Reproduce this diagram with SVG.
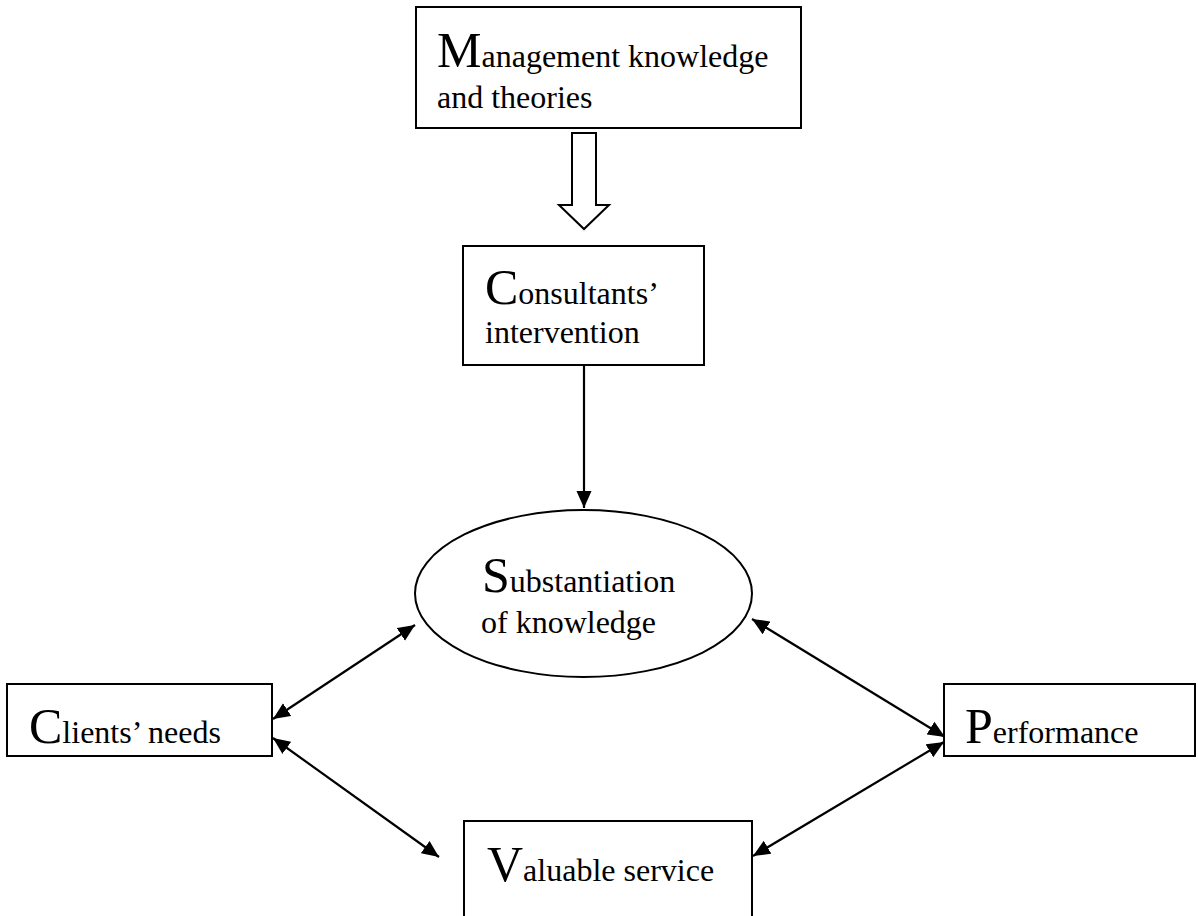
<svg xmlns="http://www.w3.org/2000/svg" width="1198" height="916" viewBox="0 0 1198 916">
<defs>
<style>
.box{fill:#fff;stroke:#000;stroke-width:2}
.t{font-family:"Liberation Serif","Times New Roman",serif;font-size:32px;fill:#000}
.b{font-size:50px}
.ln{stroke:#000;stroke-width:2.2;fill:none}
</style>
<marker id="ah" markerUnits="userSpaceOnUse" markerWidth="18" markerHeight="16" refX="17" refY="7.5" orient="auto-start-reverse" viewBox="0 0 18 15">
<path d="M0,0 L17,7.5 L0,15 Z" fill="#000"/>
</marker>
</defs>
<rect width="1198" height="916" fill="#fff"/>
<g id="connectors">
<polygon points="572,133 596,133 596,205 609,205 584,229 559,205 572,205" fill="#fff" stroke="#000" stroke-width="2"/>
<line class="ln" x1="584" y1="365" x2="584" y2="508" marker-end="url(#ah)"/>
<line class="ln" x1="273" y1="719" x2="415" y2="625" marker-start="url(#ah)" marker-end="url(#ah)"/>
<line class="ln" x1="273" y1="738" x2="439" y2="857" marker-start="url(#ah)" marker-end="url(#ah)"/>
<line class="ln" x1="752" y1="619" x2="945" y2="737" marker-start="url(#ah)" marker-end="url(#ah)"/>
<line class="ln" x1="753" y1="856" x2="944" y2="742" marker-start="url(#ah)" marker-end="url(#ah)"/>
</g>
<g id="management">
<rect class="box" x="416" y="7" width="385" height="121"/>
<text class="t" x="437" y="67"><tspan class="b">M</tspan>anagement knowledge</text>
<text class="t" x="437" y="108">and theories</text>
</g>
<g id="consultants">
<rect class="box" x="463" y="246" width="241" height="119"/>
<text class="t" x="485" y="304"><tspan class="b">C</tspan>onsultants’</text>
<text class="t" x="485" y="343">intervention</text>
</g>
<g id="substantiation">
<ellipse cx="583.5" cy="593.5" rx="168.5" ry="83.5" fill="#fff" stroke="#000" stroke-width="2"/>
<text class="t" x="482" y="592"><tspan class="b">S</tspan>ubstantiation</text>
<text class="t" x="481" y="633">of knowledge</text>
</g>
<g id="clients">
<rect class="box" x="7" y="684" width="265" height="72" stroke-width="2.5"/>
<text class="t" x="29" y="743"><tspan class="b">C</tspan>lients’ needs</text>
</g>
<g id="performance">
<rect class="box" x="944" y="684" width="251" height="72" stroke-width="2.5"/>
<text class="t" x="965" y="743"><tspan class="b">P</tspan>erformance</text>
</g>
<g id="valuable">
<rect class="box" x="464" y="821" width="288" height="100"/>
<text class="t" x="487" y="881"><tspan class="b">V</tspan>aluable service</text>
</g>
</svg>
